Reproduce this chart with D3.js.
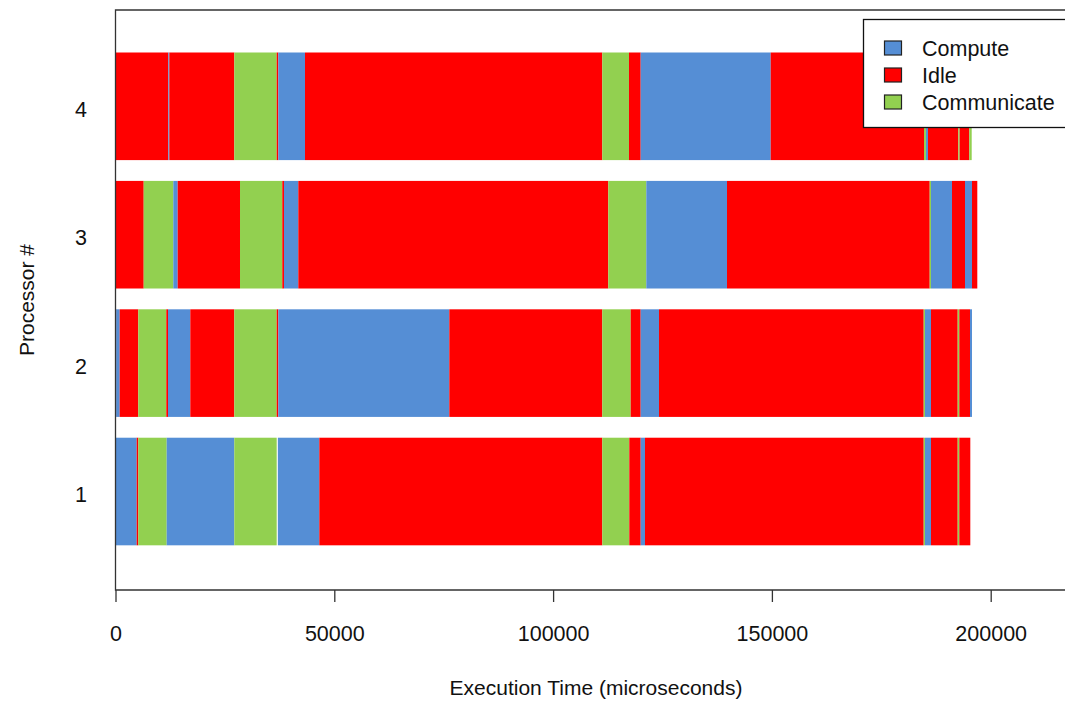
<!DOCTYPE html>
<html>
<head>
<meta charset="utf-8">
<script src="https://cdn.jsdelivr.net/npm/d3@7"></script>
<style>
  body { margin: 0; background: #fff; }
  svg { display: block; font-family: "Liberation Sans", Arial, sans-serif; }
</style>
</head>
<body>
<svg id="chart" width="1065" height="701"></svg>
<script>
const states = ['Compute', 'Idle', 'Communicate']
const stateColors = ['#558ed5', '#ff0000', '#92d050']
const processors = [1, 2, 3, 4]
const xTicks = [0, 50000, 100000, 150000, 200000]

// [start, end, state] in microseconds
const proc1 = [
  [0, 4845, 'Compute'], [4845, 5210, 'Idle'], [5210, 11700, 'Communicate'],
  [11700, 27148, 'Compute'], [27148, 36837, 'Communicate'], [37100, 46572, 'Compute'],
  [46572, 111243, 'Idle'], [111243, 117413, 'Communicate'], [117413, 120018, 'Idle'],
  [120018, 121000, 'Compute'], [121000, 184689, 'Idle'], [184689, 184986, 'Communicate'],
  [184986, 186357, 'Compute'], [186357, 192459, 'Idle'], [192459, 192825, 'Communicate'],
  [192825, 195340, 'Idle']
]
const proc2 = [
  [0, 150, 'Idle'], [150, 960, 'Compute'], [960, 5210, 'Idle'],
  [5210, 11609, 'Communicate'], [11609, 11997, 'Idle'], [11997, 17093, 'Compute'],
  [17093, 27148, 'Idle'], [27148, 36837, 'Communicate'], [36837, 37203, 'Idle'],
  [37203, 76280, 'Compute'], [76280, 111243, 'Idle'], [111243, 117733, 'Communicate'],
  [117733, 120018, 'Idle'], [120018, 124200, 'Compute'], [124200, 184689, 'Idle'],
  [184689, 184986, 'Communicate'], [184986, 186357, 'Compute'], [186357, 192459, 'Idle'],
  [192459, 192825, 'Communicate'], [192825, 195270, 'Idle'], [195270, 195727, 'Compute']
]
const proc3 = [
  [0, 6444, 'Idle'], [6444, 13209, 'Communicate'], [13209, 14214, 'Compute'],
  [14214, 28451, 'Idle'], [28451, 38117, 'Communicate'], [38117, 38500, 'Idle'],
  [38500, 41773, 'Compute'], [41773, 112614, 'Idle'], [112614, 121298, 'Communicate'],
  [121298, 139740, 'Compute'], [139740, 186060, 'Idle'], [186060, 186357, 'Communicate'],
  [186357, 191156, 'Compute'], [191156, 194127, 'Idle'], [194127, 195727, 'Compute'],
  [195727, 196937, 'Idle']
]
const proc4 = [
  [0, 12066, 'Idle'], [12066, 12300, 'Compute'], [12300, 27148, 'Idle'],
  [27148, 36837, 'Communicate'], [36837, 37203, 'Idle'], [37203, 43304, 'Compute'],
  [43304, 111243, 'Idle'], [111243, 117345, 'Communicate'], [117345, 120018, 'Idle'],
  [120018, 149726, 'Compute'], [149726, 184758, 'Idle'], [184758, 185200, 'Communicate'],
  [185200, 185672, 'Compute'], [185672, 192596, 'Idle'], [192596, 192900, 'Communicate'],
  [192900, 195110, 'Idle'], [195110, 195658, 'Communicate']
]
const segmentsByProc = [proc1, proc2, proc3, proc4]

const svg = d3.select('#chart')

const x = d3.scaleLinear().domain([0, 200000]).range([115.5, 990.7])
const y = d3.scaleLinear().domain([0.233, 4.75]).range([590, 10])
const color = d3.scaleOrdinal().domain(states).range(stateColors)
const halfBar = 0.419

const g = svg.append('g')

processors.forEach((p, i) => {
  g.selectAll('.seg-' + p)
    .data(segmentsByProc[i])
    .enter().append('rect')
    .attr('class', 'seg-' + p)
    .attr('x', d => x(d[0]))
    .attr('width', d => Math.max(0.6, x(d[1]) - x(d[0])))
    .attr('y', y(p + halfBar))
    .attr('height', y(p - halfBar) - y(p + halfBar))
    .attr('fill', d => color(d[2]))
})

// plot frame (right side runs off the page)
svg.append('path')
  .attr('d', 'M1066,10 H115.5 V590 H1066')
  .attr('fill', 'none')
  .attr('stroke', '#333')
  .attr('stroke-width', 1.3)

// x axis
const xAxis = svg.append('g')
  .attr('transform', 'translate(0,590)')
  .call(d3.axisBottom(x).tickValues(xTicks).tickFormat(d3.format('d')).tickSize(12).tickPadding(24))
xAxis.select('.domain').remove()
xAxis.selectAll('.tick line').attr('stroke', '#333').attr('stroke-width', 1.3)
xAxis.selectAll('.tick text').attr('font-size', 21.5).attr('fill', '#111').attr('font-family', '"Liberation Sans", Arial, sans-serif')

// y labels
svg.selectAll('.ylab')
  .data(processors)
  .enter().append('text')
  .attr('class', 'ylab')
  .attr('x', 81)
  .attr('y', d => y(d))
  .attr('dy', '0.5em')
  .attr('text-anchor', 'middle')
  .attr('font-size', 21.5)
  .attr('fill', '#111')
  .text(d => d)

svg.append('text')
  .attr('x', 596)
  .attr('y', 695)
  .attr('text-anchor', 'middle')
  .attr('font-size', 21)
  .attr('fill', '#111')
  .text('Execution Time (microseconds)')

svg.append('text')
  .attr('transform', 'translate(34,300) rotate(-90)')
  .attr('text-anchor', 'middle')
  .attr('font-size', 21)
  .attr('fill', '#111')
  .text('Processor #')

// legend
const legend = svg.append('g')
legend.append('rect')
  .attr('x', 863.5).attr('y', 19.5)
  .attr('width', 210).attr('height', 108)
  .attr('fill', '#fff').attr('stroke', '#111').attr('stroke-width', 1.3)

const items = legend.selectAll('.item')
  .data(states)
  .enter().append('g')
  .attr('class', 'item')
  .attr('transform', (d, i) => `translate(0,${48 + i * 27})`)

items.append('rect')
  .attr('x', 884.5).attr('y', -7)
  .attr('width', 17).attr('height', 14)
  .attr('fill', d => color(d))
  .attr('stroke', '#222').attr('stroke-width', 1.2)

items.append('text')
  .attr('x', 922)
  .attr('dy', '0.36em')
  .attr('font-size', 21.5)
  .attr('fill', '#111')
  .text(d => d)
</script>
</body>
</html>
